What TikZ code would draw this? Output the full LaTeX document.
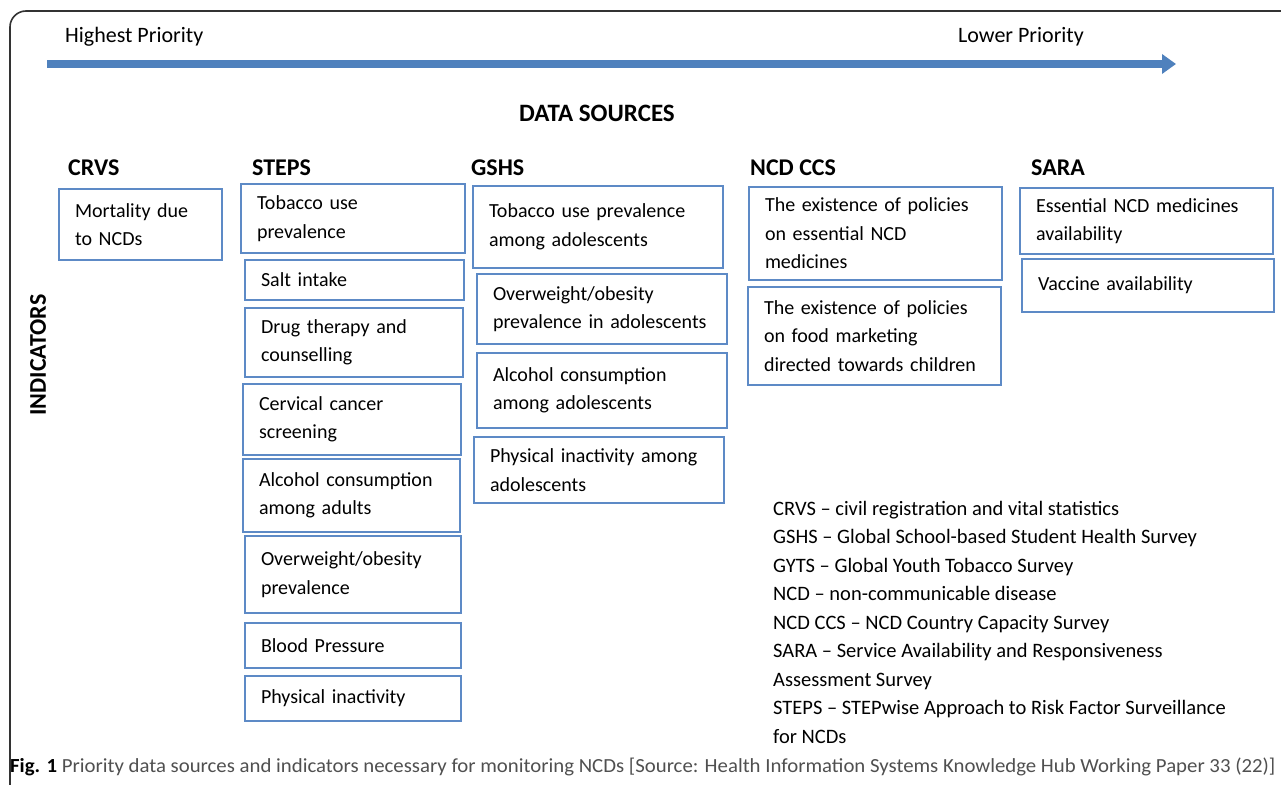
\documentclass[tikz,border=0pt]{standalone}
\usepackage{fontspec}
\setmainfont{Carlito}
\newfontfamily\capfont[FakeStretch=1.04]{Carlito}
\usepackage{xcolor}
\definecolor{pfeil}{RGB}{79,129,189}
\definecolor{rand}{RGB}{93,138,198}
\definecolor{capgray}{RGB}{80,80,80}
\usetikzlibrary{arrows.meta}
\hyphenpenalty=10000
\exhyphenpenalty=10000
\newcommand{\IndBox}[6]{%
\node[indbox,minimum width={#4-#2},minimum height={#5-#3},text width={#4-#2-32}] (#1) at ({(#2+#4)/2},{(#3+#5)/2}) {#6};}

\begin{document}
\begin{tikzpicture}[x=1pt,y=-1pt,line cap=round]
	\tikzstyle{indbox}=[draw=rand,line width=1.2pt,inner xsep=16pt,inner ysep=0pt,align=left,font=\fontsize{20}{28.5}\selectfont];
	\tikzstyle{srchead}=[anchor=west,inner sep=0pt,font=\fontsize{24}{28}\selectfont\bfseries];
	\tikzstyle{prio}=[anchor=west,inner sep=0pt,font=\fontsize{22}{26}\selectfont];
%<--------------------------------------------------------------------------->%
	\useasboundingbox (0,0) rectangle (1281,784);
	\fill[white] (0,0) rectangle (1281,784);
	%% Frame
	\draw[line width=1.6pt,black!80,rounded corners=16pt] (10,790) -- (10,11) -- (1290,11);
	%% Priority arrow
	\coordinate (hi) at (47,64);
	\coordinate (lo) at (1176,64);
	\draw[pfeil,line width=8pt,line cap=butt,-{Triangle[width=19pt,length=14pt]}] (hi) -- (lo);
	\node[prio] (hp) at (65,37) {Highest Priority};
	\node[prio] (lp) at (958,37) {Lower Priority};
	\node[srchead,anchor=center,font=\fontsize{25}{28}\selectfont\bfseries] (ds) at (597,113) {DATA SOURCES};
	\node[srchead,anchor=center,rotate=90] (ind) at (38,355) {INDICATORS};
	%% Sources
	\node[srchead] (crvs) at (68,168)  {CRVS};
	\node[srchead] (steps) at (252,168) {STEPS};
	\node[srchead] (gshs) at (471,168) {GSHS};
	\node[srchead] (ccs) at (750,168)  {NCD CCS};
	\node[srchead] (sara) at (1031,168) {SARA};
	%% CRVS
	\IndBox{crvs1}{59}{189}{222}{260}{Mortality due\\to NCDs}
	%% STEPS
	\IndBox{steps1}{241}{184}{465}{253}{Tobacco use\\prevalence}
	\IndBox{steps2}{245}{260}{464}{300}{Salt intake}
	\IndBox{steps3}{245}{308}{463}{377}{Drug therapy and\\counselling}
	\IndBox{steps4}{243}{384}{461}{455}{Cervical cancer\\screening}
	\IndBox{steps5}{243}{459}{460}{532}{Alcohol consumption\\among adults}
	\IndBox{steps6}{245}{536}{461}{613}{Overweight/obesity\\prevalence}
	\IndBox{steps7}{245}{623}{461}{668}{Blood Pressure}
	\IndBox{steps8}{245}{676}{461}{721}{Physical inactivity}
	%% GSHS
	\IndBox{gshs1}{473}{186}{723}{268}{Tobacco use prevalence\\among adolescents}
	\IndBox{gshs2}{477}{274}{727}{344}{Overweight/obesity\\prevalence in adolescents}
	\IndBox{gshs3}{477}{353}{727}{428}{Alcohol consumption\\among adolescents}
	\IndBox{gshs4}{474}{437}{724}{503}{Physical inactivity among\\adolescents}
	%% NCD CCS
	\IndBox{ccs1}{749}{187}{1002}{280}{The existence of policies\\on essential NCD\\medicines}
	\IndBox{ccs2}{748}{287}{1001}{385}{The existence of policies\\on food marketing\\directed towards children}
	%% SARA
	\IndBox{sara1}{1020}{188}{1273}{254}{Essential NCD medicines\\availability}
	\IndBox{sara2}{1022}{259}{1274}{312}{Vaccine availability}
	%% Legend
	\node[anchor=north west,inner sep=0pt,align=left,font=\fontsize{20.5}{28.5}\selectfont] (leg) at (773,501) {%
		CRVS -- civil registration and vital statistics\\
		GSHS -- Global School-based Student Health Survey\\
		GYTS -- Global Youth Tobacco Survey\\
		NCD -- non-communicable disease\\
		NCD CCS -- NCD Country Capacity Survey\\
		SARA -- Service Availability and Responsiveness\\
		Assessment Survey\\
		STEPS -- STEPwise Approach to Risk Factor Surveillance\\
		for NCDs};
	%% Caption
	\node[anchor=west,inner sep=0pt,font=\capfont\fontsize{20}{24}\selectfont] (cap) at (10,767) {{\bfseries Fig. 1} \textcolor{capgray}{Priority data sources and indicators necessary for monitoring NCDs [Source: Health Information Systems Knowledge Hub Working Paper 33 (22)]}};
\end{tikzpicture}
\end{document}
